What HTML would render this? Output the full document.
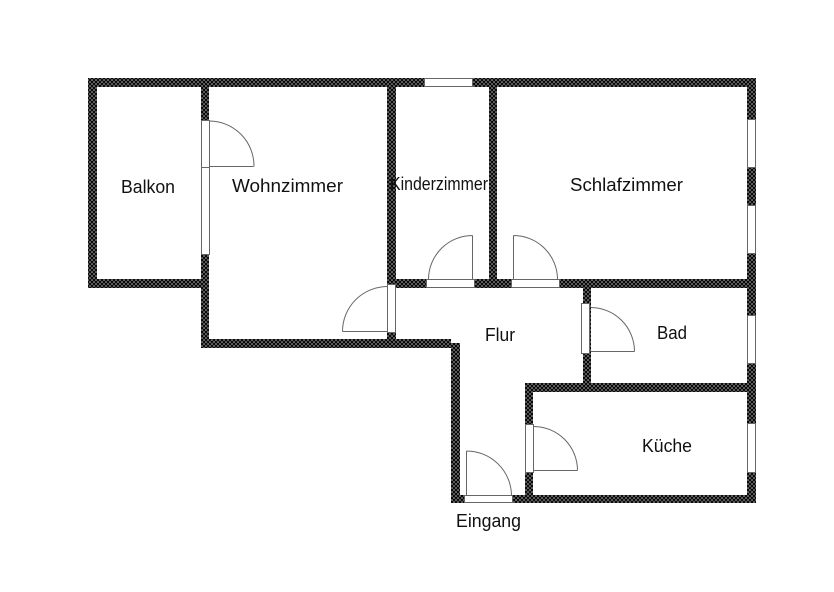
<!DOCTYPE html>
<html><head><meta charset="utf-8"><style>
html,body{margin:0;padding:0;background:#fff;}
svg{display:block;}
text{font-family:"Liberation Sans",sans-serif;font-size:18px;fill:#111;}
</style></head><body>
<svg width="834" height="592" viewBox="0 0 834 592" xmlns="http://www.w3.org/2000/svg">
<defs>
<pattern id="h" width="4" height="4" patternUnits="userSpaceOnUse">
<rect width="4" height="4" fill="#0a0a0a"/>
<circle cx="0" cy="0" r="0.8" fill="#bbb"/>
<circle cx="4" cy="0" r="0.8" fill="#bbb"/>
<circle cx="0" cy="4" r="0.8" fill="#bbb"/>
<circle cx="4" cy="4" r="0.8" fill="#bbb"/>
<circle cx="2" cy="2" r="0.8" fill="#bbb"/>
</pattern>
</defs>
<rect width="834" height="592" fill="#fff"/>
<g fill="url(#h)">
<rect x="88" y="78" width="668" height="9"/>
<rect x="88" y="78" width="9" height="210"/>
<rect x="88" y="279" width="121" height="9"/>
<rect x="201" y="78" width="8" height="270"/>
<rect x="201" y="339" width="250" height="9"/>
<rect x="451" y="343" width="9" height="160"/>
<rect x="387" y="78" width="9" height="270"/>
<rect x="387" y="279" width="369" height="9"/>
<rect x="489" y="78" width="8" height="210"/>
<rect x="747" y="78" width="9" height="425"/>
<rect x="583" y="279" width="8" height="113"/>
<rect x="525" y="383" width="231" height="9"/>
<rect x="525" y="383" width="8" height="120"/>
<rect x="451" y="495" width="305" height="8"/>
</g>
<g fill="#fff" stroke="#666" stroke-width="1">
<rect x="201.5" y="120.5" width="8" height="47"/>
<rect x="201.5" y="167.5" width="8" height="87"/>
<rect x="424.5" y="78.5" width="48" height="8"/>
<rect x="747.5" y="119.5" width="8" height="48"/>
<rect x="747.5" y="205.5" width="8" height="48"/>
<rect x="747.5" y="315.5" width="8" height="48"/>
<rect x="747.5" y="423.5" width="8" height="49"/>
<rect x="387.5" y="284.5" width="8" height="48"/>
<rect x="426.5" y="279.5" width="48" height="8"/>
<rect x="511.5" y="279.5" width="48" height="8"/>
<rect x="581.5" y="303.5" width="8" height="50"/>
<rect x="525.5" y="424.5" width="8" height="48"/>
<rect x="464.5" y="495.5" width="48" height="7"/>
</g>
<g fill="none" stroke="#666" stroke-width="1">
<path d="M209.5,166.5 H253.5 M209.5,121 A45,45 0 0 1 254,166.5"/>
<path d="M387.5,331.5 H342.5 M342.5,331.5 A45,45 0 0 1 387.5,286.5"/>
<path d="M472.5,279 V235.5 M428.5,279 A44,44 0 0 1 472.5,235.5"/>
<path d="M513.5,279 V235.5 M513.5,235.5 A44,44 0 0 1 557.5,279"/>
<path d="M590.5,351.5 H634.5 M590.5,307.5 A44,44 0 0 1 634.5,351.5"/>
<path d="M533.5,470.5 H577.5 M533.5,426.5 A44,44 0 0 1 577.5,470.5"/>
<path d="M466.5,495 V451 M466.5,451 A45,45 0 0 1 511.5,495"/>
</g>
<text x="121" y="193" textLength="54" lengthAdjust="spacingAndGlyphs">Balkon</text>
<text x="232" y="192" textLength="111" lengthAdjust="spacingAndGlyphs">Wohnzimmer</text>
<text x="390" y="190" textLength="98" lengthAdjust="spacingAndGlyphs">Kinderzimmer</text>
<text x="570" y="191" textLength="113" lengthAdjust="spacingAndGlyphs">Schlafzimmer</text>
<text x="485" y="341" textLength="30" lengthAdjust="spacingAndGlyphs">Flur</text>
<text x="657" y="339" textLength="30" lengthAdjust="spacingAndGlyphs">Bad</text>
<text x="642" y="452" textLength="50" lengthAdjust="spacingAndGlyphs">Küche</text>
<text x="456" y="527" textLength="65" lengthAdjust="spacingAndGlyphs">Eingang</text>
</svg>
</body></html>
